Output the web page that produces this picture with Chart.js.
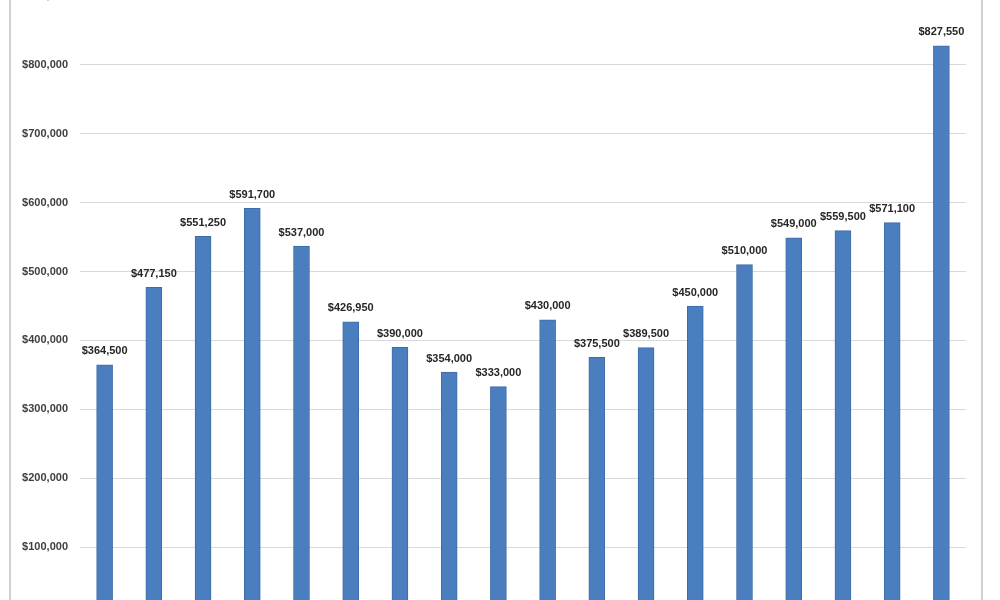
<!DOCTYPE html>
<html>
<head>
<meta charset="utf-8">
<script src="https://cdn.jsdelivr.net/npm/chart.js@4/dist/chart.umd.min.js"></script>
<style>
  html, body { margin: 0; padding: 0; background: #fff; overflow: hidden; }
  #wrap { position: absolute; left: 0; top: -60px; width: 1000px; height: 700px; }
</style>
</head>
<body>
<div id="wrap"><canvas id="barChart" width="1000" height="700"></canvas></div>
<script>
// categories (not visible in the crop, assumed years)
const years = ["2000", "2001", "2002", "2003", "2004", "2005", "2006", "2007", "2008",
  "2009", "2010", "2011", "2012", "2013", "2014", "2015", "2016", "2017"];
const prices = [364500, 477150, 551250, 591700, 537000, 426950, 390000, 354000, 333000,
  430000, 375500, 389500, 450000, 510000, 549000, 559500, 571100, 827550];
const yTicks = [0, 100000, 200000, 300000, 400000, 500000, 600000, 700000, 800000, 900000];

function money(v) {
  return "$" + v.toLocaleString("en-US");
}

// value labels above each bar
const barLabels = {
  id: "barLabels",
  afterDatasetsDraw(chart) {
    const ctx = chart.ctx;
    const meta = chart.getDatasetMeta(0);
    ctx.save();
    ctx.font = "bold 11px 'Liberation Sans', Arial, sans-serif";
    ctx.fillStyle = "#262626";
    ctx.textAlign = "center";
    ctx.textBaseline = "bottom";
    meta.data.forEach(function (bar, i) {
      ctx.fillText(money(prices[i]), bar.x, bar.y - 8);
    });
    ctx.restore();
  }
};

// the thin frame lines at left and right of the picture
const frame = {
  id: "frame",
  beforeDraw(chart) {
    const ctx = chart.ctx;
    ctx.save();
    ctx.strokeStyle = "#d0d0d0";
    ctx.lineWidth = 2;
    ctx.beginPath();
    ctx.moveTo(10, 0); ctx.lineTo(10, chart.height);
    ctx.moveTo(982, 0); ctx.lineTo(982, chart.height);
    ctx.stroke();
    ctx.restore();
  }
};

var ctx = document.getElementById("barChart").getContext("2d");
var myChart = new Chart(ctx, {
  type: "bar",
  data: {
    labels: years,
    datasets: [
      {
        data: prices,
        backgroundColor: "#4a7ebf",
        borderColor: "#3d6ca8",
        borderWidth: 1,
        barThickness: 16,
      },
    ],
  },
  options: {
    responsive: false,
    animation: false,
    layout: { padding: { left: 10, right: 34, top: 56, bottom: 16 } },
    plugins: {
      legend: { display: false },
      tooltip: { enabled: false },
    },
    scales: {
      x: {
        grid: { display: false },
        border: { display: false },
        ticks: { display: false },
      },
      y: {
        min: 0,
        max: 900000,
        afterBuildTicks: function (scale) {
          scale.ticks = yTicks.map(v => ({ value: v }));
        },
        afterFit: function (scale) {
          scale.width = 70;
        },
        grid: { color: "#d9d9d9", lineWidth: 1, drawTicks: false },
        border: { display: false },
        ticks: {
          padding: 12,
          color: "#404040",
          font: { size: 11, weight: "bold", family: "'Liberation Sans', Arial, sans-serif" },
          callback: function (v) { return money(v); },
        },
      },
    },
  },
  plugins: [frame, barLabels],
});
</script>
</body>
</html>
